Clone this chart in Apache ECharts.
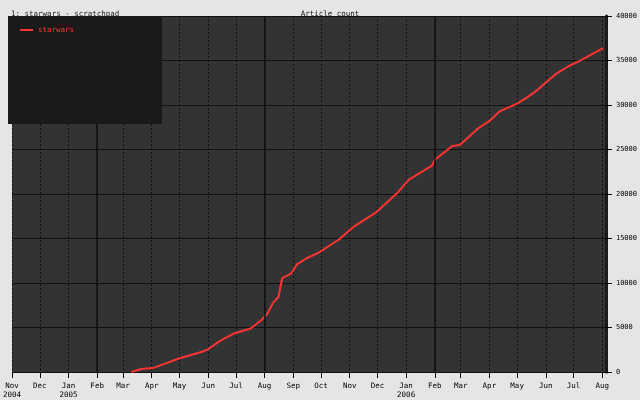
<!DOCTYPE html>
<html>
<head>
<meta charset="utf-8">
<script src="https://cdn.jsdelivr.net/npm/echarts@6/dist/echarts.min.js"></script>
<style>
  html, body { margin: 0; padding: 0; background: #e5e5e5; }
  #chart { width: 640px; height: 400px; }
</style>
</head>
<body>
<div id="chart"></div>
<script>
// article count over time
const dates = [
  '2005-03-10', '2005-03-21', '2005-04-02', '2005-04-14', '2005-05-01', '2005-05-24',
  '2005-06-01', '2005-06-13', '2005-06-29', '2005-07-17', '2005-07-29', '2005-08-04',
  '2005-08-10', '2005-08-16', '2005-08-20', '2005-08-30', '2005-09-05', '2005-09-15',
  '2005-09-29', '2005-10-20', '2005-11-05', '2005-11-30', '2005-12-23', '2006-01-04',
  '2006-01-29', '2006-02-01', '2006-02-20', '2006-02-28', '2006-03-20', '2006-04-02',
  '2006-04-12', '2006-05-01', '2006-05-13', '2006-05-22', '2006-06-02', '2006-06-12',
  '2006-06-26', '2006-07-07', '2006-08-02'
];
const articles = [
  0, 330, 440, 890, 1550, 2220,
  2550, 3440, 4330, 4880, 5880, 6540,
  7760, 8430, 10540, 11090, 12090, 12750,
  13450, 14860, 16300, 17970, 20180, 21620,
  23180, 23840, 25400, 25500, 27390, 28280,
  29280, 30160, 30940, 31610, 32600, 33490,
  34380, 34940, 36380
];
// month ticks along the bottom
const tickDates = [
  '2004-11-01', '2004-12-01', '2005-01-01', '2005-02-01', '2005-03-01', '2005-04-01',
  '2005-05-01', '2005-06-01', '2005-07-01', '2005-08-01', '2005-09-01', '2005-10-01',
  '2005-11-01', '2005-12-01', '2006-01-01', '2006-02-01', '2006-03-01', '2006-04-01',
  '2006-05-01', '2006-06-01', '2006-07-01', '2006-08-01'
];
// heavier half-year grid lines
const majorDates = ['2005-02-01', '2005-08-01', '2006-02-01'];
const xStart = '2004-11-01';
const xEnd = '2006-08-05';
const monthNames = ['Jan', 'Feb', 'Mar', 'Apr', 'May', 'Jun', 'Jul', 'Aug', 'Sep', 'Oct', 'Nov', 'Dec'];

const FONT = 'DejaVu Sans Mono';
const chart = echarts.init(document.getElementById('chart'));

const ts = s => echarts.time.parse(s).getTime();
const tickValues = tickDates.map(ts);
const firstTick = tickValues[0];

const option = {
  backgroundColor: '#e5e5e5',
  animation: false,
  title: [
    {
      text: '1: starwars - scratchpad',
      left: 6, top: 5,
      textStyle: { fontFamily: FONT, fontSize: 7.5, fontWeight: 'normal', color: '#222' }
    },
    {
      text: 'Article count',
      left: 325, top: 5, textAlign: 'center',
      textStyle: { fontFamily: FONT, fontSize: 7.5, fontWeight: 'normal', color: '#111' }
    }
  ],
  // dark box behind the legend, covering the grid corner
  graphic: [
    {
      type: 'rect',
      z: 100,
      shape: { x: 8, y: 16, width: 154, height: 108 },
      style: { fill: '#1a1a1a' }
    }
  ],
  legend: {
    left: 8, top: 16,
    z: 101,
    orient: 'vertical',
    padding: [10, 89, 90, 12],
    icon: 'rect',
    itemWidth: 13, itemHeight: 2, itemGap: 3,
    textStyle: { fontFamily: FONT, fontSize: 7.5, color: '#ff3333' },
    data: ['starwars']
  },
  grid: {
    left: 9, right: 30, top: 16, bottom: 23,
    show: true, backgroundColor: '#333333', borderWidth: 0
  },
  xAxis: {
    type: 'value',
    min: ts(xStart),
    max: ts(xEnd),
    axisLine: { show: false },
    axisTick: {
      show: true, length: 6, customValues: tickValues,
      lineStyle: { color: '#000', width: 1 }
    },
    axisLabel: {
      customValues: tickValues,
      fontFamily: FONT, fontSize: 7.5, color: '#000', margin: 10, lineHeight: 9,
      hideOverlap: false, showMinLabel: true, showMaxLabel: true,
      formatter: function (v) {
        const d = new Date(v);
        const m = monthNames[d.getMonth()];
        if (d.getMonth() === 0 || v === firstTick) return m + '\n' + d.getFullYear();
        return m;
      }
    },
    splitLine: {
      show: true,
      lineStyle: { color: '#111', type: [2, 2], width: 1 }
    }
  },
  yAxis: {
    type: 'value',
    position: 'right',
    min: 0, max: 40000, interval: 5000,
    axisLine: { show: true, lineStyle: { color: '#1a1a1a', width: 3 } },
    axisTick: { show: true, length: 6, lineStyle: { color: '#000' } },
    axisLabel: {
      fontFamily: FONT, fontSize: 7, color: '#000', margin: 10,
      formatter: v => String(v)
    },
    splitLine: { show: true, lineStyle: { color: '#111', width: 1 } }
  },
  series: [
    {
      name: 'starwars',
      type: 'line',
      data: dates.map((d, i) => [ts(d), articles[i]]),
      showSymbol: false,
      symbol: 'none',
      itemStyle: { color: '#ff3333' },
      lineStyle: { color: '#ff3333', width: 2 },
      markLine: {
        silent: true,
        symbol: 'none',
        label: { show: false },
        lineStyle: { color: '#111', type: 'solid', width: 1.5 },
        data: majorDates.map(d => ({ xAxis: ts(d) }))
      },
      z: 3
    }
  ]
};

chart.setOption(option);
</script>
</body>
</html>
